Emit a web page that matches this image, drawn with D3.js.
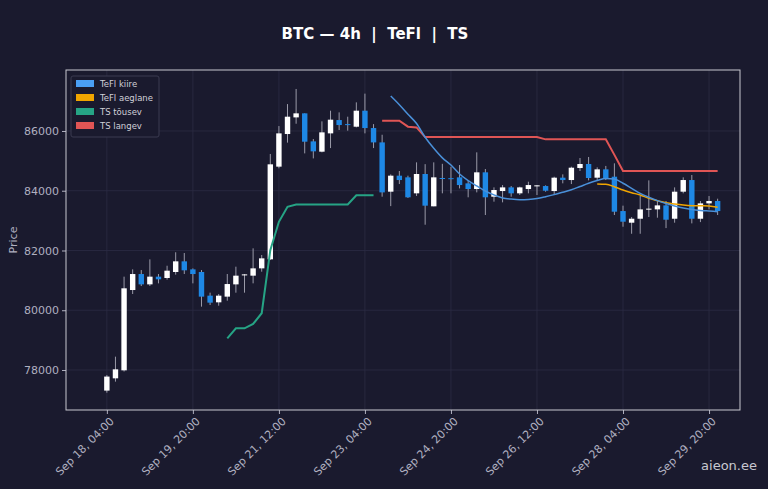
<!DOCTYPE html>
<html>
<head>
<meta charset="utf-8">
<script src="https://cdn.jsdelivr.net/npm/d3@7"></script>
<style>
  body { margin: 0; background: #1a1a2e; }
  text { font-family: "DejaVu Sans", sans-serif; }
</style>
</head>
<body>
<div id="chart"></div>
<script>
// 4h candles starting Sep 18 04:00
const start = new Date(2025, 8, 18, 4, 0);
const opens  = [77310,77721,77989,80677,81212,80866,81124,81079,81280,81637,81368,81280,80488,80265,80455,80866,81170,81157,81402,81704,84806,85898,86455,86590,85652,85307,85920,86366,86230,86143,86679,86098,85618,83968,84504,84448,83913,84560,83478,84426,84420,84448,84247,84057,84616,83800,83990,84112,83913,84057,84170,84157,83990,84437,84358,84760,84895,84437,84716,84470,83320,82930,83063,83376,83376,83510,83063,83968,84358,83063,83577,83656];
const highs  = [77830,78446,81124,81368,81346,81703,81212,81490,81940,81915,81400,81346,80589,80543,81212,81458,81212,82072,81848,85230,86165,86900,87406,86590,85730,86322,86679,86623,86478,86958,87250,86230,85874,84548,84660,84504,84950,84890,84950,84900,84800,84860,84336,85285,84727,84112,84190,84157,84135,84302,84190,84180,84470,84548,84805,85095,85130,84783,84830,84917,83500,83120,83823,84347,83656,83656,84112,84448,84526,83656,83823,83733];
const lows   = [77240,77610,77950,80543,80810,80810,80900,81024,81190,81212,80900,80120,80175,80152,80320,80588,80588,80900,81290,81680,84750,85610,86242,85250,85082,85285,85428,86032,86010,86120,85920,85428,83800,83485,84224,83757,83824,82862,83478,83913,83913,84078,83780,83945,83187,83634,83611,83800,83857,83913,83857,83968,83857,84247,84224,84660,84347,84358,84358,83187,82795,82560,82560,83120,83097,82750,82930,83913,82907,82950,83376,83187];
const closes = [77780,78022,80734,81212,80866,81124,81035,81324,81637,81336,81212,80455,80254,80488,80877,81157,81200,81402,81737,84884,85920,86478,86590,85641,85318,85954,86378,86199,86199,86679,86098,85618,83945,84504,84358,83780,84560,83500,84448,84410,84410,84190,84057,84616,83780,84024,84112,83913,84112,84190,84180,84000,84437,84358,84771,84895,84426,84716,84410,83298,82963,83063,83376,83400,83510,83030,83968,84358,83063,83577,83656,83320];

// indicator lines: [candle index, value]
const tefiFast = [[33,87170],[34,86880],[35,86560],[36,86250],[37,85790],[38,85420],[39,85100],[40,84860],[41,84560],[42,84340],[43,84160],[44,83990],[45,83860],[46,83760],[47,83720],[48,83700],[49,83710],[50,83740],[51,83800],[52,83870],[53,83950],[54,84030],[55,84140],[56,84250],[57,84340],[58,84410],[59,84390],[60,84250],[61,84080],[62,83910],[63,83780],[64,83670],[65,83570],[66,83490],[67,83420],[68,83370],[69,83340],[70,83320],[71,83300]];
const tefiSlow = [[57,84224],[58,84213],[59,84135],[60,84024],[61,83935],[62,83857],[63,83745],[64,83668],[65,83600],[66,83555],[67,83520],[68,83500],[69,83495],[70,83490],[71,83445]];
const tsUp = [[14,79061],[15,79396],[16,79396],[17,79541],[18,79900],[19,82010],[20,82960],[21,83462],[22,83540],[23,83540],[24,83540],[25,83540],[26,83540],[27,83540],[28,83540],[29,83850],[30,83850],[31,83850]];
const tsDown = [[32,86344],[33,86344],[34,86344],[35,86144],[36,86120],[37,85797],[38,85797],[39,85797],[40,85797],[41,85797],[42,85797],[43,85797],[44,85797],[45,85797],[46,85797],[47,85797],[48,85797],[49,85797],[50,85797],[51,85720],[52,85720],[53,85720],[54,85720],[55,85720],[56,85720],[57,85720],[58,85720],[59,85200],[60,84660],[61,84660],[62,84660],[63,84660],[64,84660],[65,84660],[66,84660],[67,84660],[68,84660],[69,84660],[70,84660],[71,84660]];

const yTicks = [78000, 80000, 82000, 84000, 86000];
const xTickIdx = [0, 10, 20, 30, 40, 50, 60, 70];

const W = 768, H = 489;
const pL = 66, pR = 740, pT = 70, pB = 410;
const H4 = 4 * 3600 * 1000;
const t = i => new Date(start.getTime() + i * H4);

const svg = d3.select("#chart").append("svg").attr("width", W).attr("height", H);
svg.append("rect").attr("width", W).attr("height", H).attr("fill", "#1a1a2e");

const x = d3.scaleTime().domain([t(-4.75), t(73.6)]).range([pL, pR]);
const y = d3.scaleLinear().domain([76661, 88041]).range([pB, pT]);

// grid
svg.append("g").selectAll("line").data(yTicks).join("line")
    .attr("x1", pL).attr("x2", pR)
    .attr("y1", d => y(d)).attr("y2", d => y(d))
    .attr("stroke", "#2c2c44").attr("stroke-width", 0.8);
svg.append("g").selectAll("line").data(xTickIdx).join("line")
    .attr("x1", d => x(t(d))).attr("x2", d => x(t(d)))
    .attr("y1", pT).attr("y2", pB)
    .attr("stroke", "#2c2c44").attr("stroke-width", 0.8);

// axes
const fmt = d3.timeFormat("%b %d, %H:%M");
const xAxis = svg.append("g").attr("transform", `translate(0,${pB})`)
    .call(d3.axisBottom(x).tickValues(xTickIdx.map(t)).tickFormat(fmt).tickSize(4));
xAxis.selectAll("text").attr("fill", "#b0b0c0").attr("font-size", 11)
    .attr("text-anchor", "end").attr("dx", "-0.3em").attr("dy", "0.6em")
    .attr("transform", "rotate(-45)");
const yAxis = svg.append("g").attr("transform", `translate(${pL},0)`)
    .call(d3.axisLeft(y).tickValues(yTicks).tickFormat(d3.format("d")).tickSize(4));
yAxis.selectAll("text").attr("fill", "#b0b0c0").attr("font-size", 11);
svg.selectAll(".domain").remove();
svg.selectAll(".tick line").attr("stroke", "#b0b0c0");
svg.append("rect").attr("x", pL).attr("y", pT).attr("width", pR - pL).attr("height", pB - pT)
    .attr("fill", "none").attr("stroke", "#c8c8d0").attr("stroke-width", 1);

// candles
const idx = d3.range(opens.length);
const bw = 5.4;
const up = "#ffffff", down = "#1e88e5";
const g = svg.append("g");
g.selectAll("line.wick").data(idx).join("line")
    .attr("x1", i => x(t(i))).attr("x2", i => x(t(i)))
    .attr("y1", i => y(highs[i])).attr("y2", i => y(lows[i]))
    .attr("stroke", "#9a9aa8").attr("stroke-width", 1);
g.selectAll("rect.body").data(idx).join("rect")
    .attr("x", i => x(t(i)) - bw / 2).attr("width", bw)
    .attr("y", i => y(Math.max(opens[i], closes[i])))
    .attr("height", i => Math.max(1, Math.abs(y(opens[i]) - y(closes[i]))))
    .attr("fill", i => closes[i] >= opens[i] ? up : down);

// indicator lines
const line = d3.line().x(d => x(t(d[0]))).y(d => y(d[1]));
const smooth = d3.line().curve(d3.curveMonotoneX).x(d => x(t(d[0]))).y(d => y(d[1]));
svg.append("path").datum(tsUp).attr("d", line).attr("fill", "none").attr("stroke", "#26a485").attr("stroke-width", 2);
svg.append("path").datum(tsDown).attr("d", line).attr("fill", "none").attr("stroke", "#e05555").attr("stroke-width", 2);
svg.append("path").datum(tefiSlow).attr("d", smooth).attr("fill", "none").attr("stroke", "#f0a500").attr("stroke-width", 1.5);
svg.append("path").datum(tefiFast).attr("d", smooth).attr("fill", "none").attr("stroke", "#4a90d9").attr("stroke-width", 1.5);

// legend
const legendNames = ["TeFl kiire", "TeFl aeglane", "TS tõusev", "TS langev"];
const legendColors = ["#4a9ff5", "#f0a500", "#26a485", "#e05555"];
const lg = svg.append("g").attr("transform", "translate(71,76)");
lg.append("rect").attr("width", 88).attr("height", 61).attr("rx", 2)
    .attr("fill", "#1a1a2e").attr("stroke", "#3a3a50");
lg.selectAll("rect.sw").data(legendNames).join("rect")
    .attr("x", 5).attr("y", (d, i) => 4 + i * 14).attr("width", 18).attr("height", 7)
    .attr("fill", (d, i) => legendColors[i]);
lg.selectAll("text").data(legendNames).join("text")
    .attr("x", 29).attr("y", (d, i) => 11 + i * 14)
    .attr("fill", "#d0d0d8").attr("font-size", 8.5).text(d => d);

// title, labels
svg.append("text").attr("x", 375).attr("y", 39).attr("text-anchor", "middle")
    .attr("fill", "#ffffff").attr("font-size", 15).attr("font-weight", "bold")
    .style("white-space", "pre").text("BTC — 4h  |  TeFl  |  TS");
svg.append("text").attr("transform", `translate(17,${(pT + pB) / 2}) rotate(-90)`)
    .attr("text-anchor", "middle").attr("fill", "#b0b0c0").attr("font-size", 11).text("Price");
svg.append("text").attr("x", 757).attr("y", 470).attr("text-anchor", "end")
    .attr("fill", "#c8c8d0").attr("font-size", 13).text("aieon.ee");
</script>
</body>
</html>
